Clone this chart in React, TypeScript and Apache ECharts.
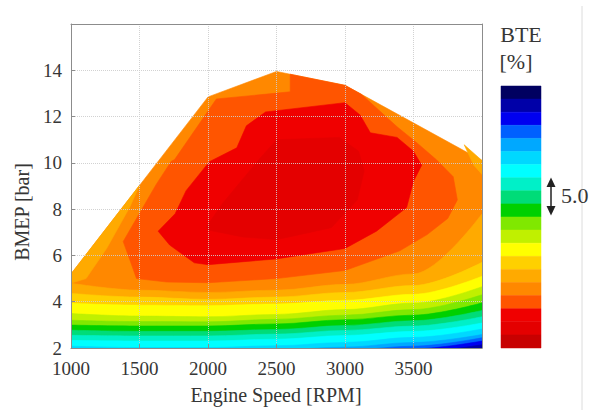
import { useEffect, useRef } from 'react';
import * as echarts from 'echarts';

// Colour scale of the BTE colour bar, top (index 0) to bottom (index 19)
const LEVEL_COLORS = [
  '#000060', '#0000a8', '#0000f0', '#0060ff', '#00a8ff',
  '#00d8ff', '#00ffff', '#00f0c8', '#00dc78', '#00d000',
  '#80e800', '#c0f000', '#ffff00', '#ffd000', '#ffaa00',
  '#ff8800', '#ff5500', '#f00000', '#e40000', '#c80000',
];

// Engine speed stations at which the lower iso-BTE boundaries were read
const RPM = [1000, 1500, 2000, 2500, 3000, 3500, 4000];

// Lower edge (BMEP, bar) of the region at or above each colour level
const B15 = [4.8, 4.5, 4.4, 4.5, 4.75, 5.2, 7.8];
const B14 = [4.36, 4.2, 4.1, 4.2, 4.4, 4.7, 5.7];
const B13 = [3.93, 3.85, 3.83, 3.9, 4.06, 4.32, 5.1];
const B12 = [3.49, 3.38, 3.35, 3.45, 3.66, 3.94, 4.65];
const B11 = [3.2, 3.14, 3.13, 3.24, 3.42, 3.66, 4.3];
const B10 = [2.99, 2.95, 2.95, 3.04, 3.22, 3.42, 3.95];
const B9 = [2.77, 2.72, 2.72, 2.8, 2.97, 3.18, 3.62];
const B8 = [2.55, 2.52, 2.52, 2.6, 2.76, 2.95, 3.35];
const B7 = [2.33, 2.3, 2.3, 2.38, 2.54, 2.72, 3.08];
const B6 = [2.08, 2.02, 2.02, 2.1, 2.24, 2.46, 2.82];
const B5 = [1.9, 1.85, 1.85, 1.92, 2.04, 2.24, 2.58];
const B4 = [1.5, 1.5, 1.55, 1.68, 1.9, 2.08, 2.44];
const B3 = [1.2, 1.2, 1.3, 1.5, 1.75, 1.96, 2.3];
const B2 = [1.0, 1.0, 1.1, 1.3, 1.55, 1.82, 2.14];

const LOWER_BOUNDS: [number, number[]][] = [
  [15, B15], [14, B14], [13, B13], [12, B12], [11, B11], [10, B10], [9, B9],
  [8, B8], [7, B7], [6, B6], [5, B5], [4, B4], [3, B3], [2, B2],
];

// Operating envelope (rpm, bar)
const ENVELOPE = [
  [1000, 2], [1000, 5.2], [2000, 12.85], [2500, 13.95], [3000, 13.35], [4000, 10.1], [4000, 2],
];
// Closed iso-BTE regions (rpm, bar)
const WEDGE_LEFT = [[1000, 4.8], [1000, 5.2], [1500, 9.03], [1430, 8.1], [1260, 6.3], [1110, 5.0]];
const PATCH_RIGHT = [[3870, 10.78], [4000, 10.1], [4000, 9.5], [3940, 9.9]];
const DARK_ORANGE = [
  [1478, 5.0], [1430, 5.8], [1381, 6.6], [1622, 9.07], [1732, 10.07], [1756, 10.14],
  [2061, 12.76], [2600, 13.07], [2600, 13.83], [3000, 13.35], [3120, 12.96],
  [3380, 11.56], [3530, 10.84], [3670, 10.12], [3790, 9.4], [3820, 8.4], [3750, 7.6],
  [3600, 6.9], [3400, 6.2], [3000, 5.35], [2500, 5.0], [2000, 4.82], [1700, 4.85],
];
const RED = [
  [1636, 7.05], [1720, 6.45], [1900, 5.68], [2000, 5.6], [2500, 5.85], [3000, 6.3],
  [3230, 7.05], [3450, 8.07], [3500, 9.2], [3560, 9.9], [3500, 10.5], [3380, 11.1],
  [3185, 11.3], [3110, 12.07], [3000, 12.6], [2420, 12.2], [2280, 11.6], [2210, 10.65],
  [2010, 10.05], [1840, 8.8], [1760, 7.8],
];
const RED_CORE = [
  [2000, 7.1], [2250, 6.8], [2500, 6.68], [2900, 7.2], [3090, 8.4], [3140, 9.65],
  [3100, 10.5], [2960, 11.1], [2500, 11.0], [2380, 10.2], [2240, 9.2], [2100, 8.2], [1990, 7.25],
];

const REGIONS: [number, number[][]][] = [
  [15, ENVELOPE], [14, WEDGE_LEFT], [14, PATCH_RIGHT], [16, DARK_ORANGE], [17, RED], [18, RED_CORE],
];

const FONT = "'Liberation Serif', 'Times New Roman', serif";
const TXT = '#363636';

export default function App() {
  const ref = useRef<HTMLDivElement>(null);
  useEffect(() => {
    if (!ref.current) return;
    const chart = echarts.init(ref.current, null, { renderer: 'svg' });

    const polySeries = REGIONS.map(([level, pts]) => ({
      type: 'custom',
      xAxisIndex: 0,
      yAxisIndex: 0,
      silent: true,
      clip: true,
      z: 2,
      data: [[pts[0][0], pts[0][1]]],
      renderItem: (_p: any, api: any) => ({
        type: 'polygon',
        shape: { points: pts.map((p) => api.coord(p)) },
        style: { fill: LEVEL_COLORS[level], stroke: LEVEL_COLORS[level], lineWidth: 0.6 },
      }),
    }));

    const bandSeries = LOWER_BOUNDS.map(([level, vals]) => ({
      type: 'line',
      xAxisIndex: 0,
      yAxisIndex: 0,
      silent: true,
      z: 3,
      data: RPM.map((x, i) => [x, vals[i]]),
      smooth: 0.35,
      smoothMonotone: 'x',
      symbol: 'none',
      lineStyle: { width: 0.6, color: LEVEL_COLORS[level - 1] },
      areaStyle: { color: LEVEL_COLORS[level - 1], opacity: 1, origin: 'start' },
    }));

    const colorbar = {
      type: 'custom',
      xAxisIndex: 2,
      yAxisIndex: 2,
      silent: true,
      data: LEVEL_COLORS.map((_c, i) => [0, i]),
      renderItem: (params: any, api: any) => {
        const i = params.dataIndex;
        const a = api.coord([0, i]);
        const b = api.coord([1, i + 1]);
        return {
          type: 'rect',
          shape: { x: a[0], y: a[1], width: b[0] - a[0], height: b[1] - a[1] },
          style: { fill: LEVEL_COLORS[i], stroke: LEVEL_COLORS[i], lineWidth: 0.5 },
        };
      },
    };

    const axisLineStyle = { color: '#8c8c8c', width: 1 };
    const split = { show: true, lineStyle: { type: 'dotted', color: 'rgba(205,205,205,0.9)', width: 1 } };
    const plain = (v: number) => String(v);

    chart.setOption({
      animation: false,
      backgroundColor: '#ffffff',
      grid: [
        { left: 71, top: 24, width: 411, height: 324 },
        { left: 501, top: 86, width: 40, height: 262 },
      ],
      xAxis: [
        {
          gridIndex: 0, type: 'value', min: 1000, max: 4000, interval: 500, z: 10,
          axisLine: { show: true, lineStyle: axisLineStyle },
          axisTick: { show: true, inside: true, length: 4, lineStyle: axisLineStyle },
          axisLabel: { fontFamily: FONT, fontSize: 19, color: TXT, margin: 11, showMaxLabel: false, formatter: plain },
          splitLine: split,
        },
        {
          gridIndex: 0, type: 'value', position: 'top', min: 1000, max: 4000, z: 10,
          axisLine: { show: true, onZero: false, lineStyle: axisLineStyle },
          axisTick: { show: false }, axisLabel: { show: false }, splitLine: { show: false },
        },
        { gridIndex: 1, type: 'value', min: 0, max: 1, show: false },
      ],
      yAxis: [
        {
          gridIndex: 0, type: 'value', min: 2, max: 16, interval: 2, z: 10,
          axisLine: { show: true, lineStyle: axisLineStyle },
          axisTick: { show: true, inside: true, length: 4, lineStyle: axisLineStyle },
          axisLabel: { fontFamily: FONT, fontSize: 19, color: TXT, margin: 9, showMaxLabel: false, formatter: plain },
          splitLine: split,
        },
        {
          gridIndex: 0, type: 'value', position: 'right', min: 2, max: 16, z: 10,
          axisLine: { show: true, onZero: false, lineStyle: axisLineStyle },
          axisTick: { show: false }, axisLabel: { show: false }, splitLine: { show: false },
        },
        { gridIndex: 1, type: 'value', min: 0, max: 20, inverse: true, show: false },
      ],
      graphic: [
        {
          type: 'text', x: 276, y: 395,
          style: { text: 'Engine Speed [RPM]', fontFamily: FONT, fontSize: 20, fill: TXT, align: 'center', verticalAlign: 'middle' },
        },
        {
          type: 'text', x: 22, y: 212, rotation: Math.PI / 2,
          style: { text: 'BMEP [bar]', fontFamily: FONT, fontSize: 20, fill: TXT, align: 'center', verticalAlign: 'middle' },
        },
        {
          type: 'text', x: 521, y: 34,
          style: { text: 'BTE', fontFamily: FONT, fontSize: 22, fill: TXT, align: 'center', verticalAlign: 'middle' },
        },
        {
          type: 'text', x: 516, y: 61,
          style: { text: '[%]', fontFamily: FONT, fontSize: 22, fill: TXT, align: 'center', verticalAlign: 'middle' },
        },
        {
          type: 'line', shape: { x1: 582, y1: 6, x2: 582, y2: 410 },
          style: { stroke: '#dcdcdc', lineWidth: 1 },
        },
        {
          type: 'line', shape: { x1: 551, y1: 184, x2: 551, y2: 209 },
          style: { stroke: '#222', lineWidth: 1.5 },
        },
        {
          type: 'polygon', shape: { points: [[546.5, 187], [555.5, 187], [551, 177.5]] },
          style: { fill: '#222' },
        },
        {
          type: 'polygon', shape: { points: [[546.5, 206], [555.5, 206], [551, 215.5]] },
          style: { fill: '#222' },
        },
        {
          type: 'text', x: 561, y: 195,
          style: { text: '5.0', fontFamily: FONT, fontSize: 22, fill: TXT, align: 'left', verticalAlign: 'middle' },
        },
      ],
      series: [...polySeries, ...bandSeries, colorbar],
    });

    return () => chart.dispose();
  }, []);

  return <div ref={ref} style={{ position: 'fixed', left: 0, top: 0, width: 590, height: 410 }} />;
}
